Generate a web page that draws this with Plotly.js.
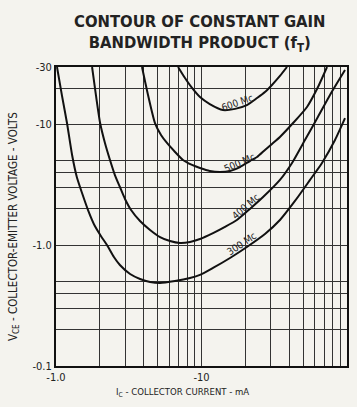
<!DOCTYPE html>
<html>
<head>
<meta charset="utf-8">
<script src="https://cdn.plot.ly/plotly-3.0.1.min.js"></script>
<style>html,body{margin:0;padding:0;background:#f4f3ee;}</style>
</head>
<body>
<div id="chart" style="width:357px;height:407px;"></div>
<script>
// Magnitudes of collector current (mA) and collector-emitter voltage (V); both are negative in the original
const ic300  = [1.016, 1.10, 1.19, 1.29, 1.39, 1.51, 1.66, 1.85, 2.04, 2.24, 2.50, 2.75, 3.23, 3.78, 4.43, 5.19, 6.57, 8.34, 9.76, 12.0, 15.7, 20.5, 27.3, 34.6, 43.9, 55.7, 67.3, 82.7, 96.9];
const vce300 = [30, 17.3, 10.3, 5.60, 3.68, 2.71, 1.96, 1.445, 1.19, 1.006, 0.80, 0.687, 0.578, 0.526, 0.497, 0.487, 0.506, 0.536, 0.568, 0.649, 0.785, 0.968, 1.24, 1.62, 2.33, 3.48, 4.81, 7.45, 11.3];

const ic400  = [1.77, 1.88, 2.01, 2.17, 2.35, 2.54, 2.75, 2.98, 3.28, 3.78, 4.43, 5.19, 6.07, 7.11, 8.34, 9.76, 12.0, 14.5, 17.5, 21.5, 26.5, 34.6, 41.9, 51.4, 63.2, 76.4, 96.9];
const vce400 = [30, 17.6, 10.3, 7.04, 5.09, 3.82, 3.04, 2.42, 1.96, 1.59, 1.34, 1.17, 1.085, 1.045, 1.065, 1.127, 1.26, 1.42, 1.62, 2.00, 2.51, 3.48, 4.81, 7.45, 11.6, 17.6, 28.3];

const ic500  = [3.90, 4.29, 4.79, 5.27, 5.79, 6.58, 7.46, 8.61, 9.76, 11.4, 13.4, 15.7, 18.4, 21.5, 24.1, 27.3, 30.5, 34.6, 42.6, 53.1, 62.2, 72.9];
const vce500 = [30, 17.6, 10.3, 8.20, 7.04, 5.93, 5.09, 4.63, 4.37, 4.13, 4.05, 4.13, 4.45, 4.99, 5.39, 6.16, 6.91, 7.90, 10.3, 14.0, 19.7, 30];

const ic600  = [6.90, 7.70, 8.61, 9.76, 11.4, 14.05, 17.0, 20.5, 24.1, 27.3, 30.5, 34.6, 38.7];
const vce600 = [30, 24.3, 20.1, 16.9, 14.8, 13.2, 13.5, 14.5, 16.6, 18.6, 21.3, 25.3, 30];

const curveLabels = ["300 Mc", "400 Mc", "500 Mc", "600 Mc"];

const xTickVals = [1,2,3,4,5,6,7,8,9,10,20,30,40,50,60,70,80,90,100];
const xTickText = ["-1.0","","","","","","","","","-10","","","","","","","","","-100"];
const yTickVals = [0.1,0.2,0.3,0.4,0.5,1,2,3,4,5,10,20,30];
const yTickText = ["-0.1","","","","","-1.0","","","","","-10","","-30"];

const lineStyle = {color:'#111', width:2, shape:'spline', smoothing:0.6};
const traces = [
  {x:ic300, y:vce300, name:curveLabels[0]},
  {x:ic400, y:vce400, name:curveLabels[1]},
  {x:ic500, y:vce500, name:curveLabels[2]},
  {x:ic600, y:vce600, name:curveLabels[3]}
].map(t => Object.assign(t, {type:'scatter', mode:'lines', line:lineStyle, hoverinfo:'skip'}));

const narrow = 'Liberation Sans Narrow, DejaVu Sans Condensed, Arial Narrow, sans-serif';
const labelPos = [
  {x:0.639, y:0.411, a:-34},
  {x:0.651, y:0.535, a:-41},
  {x:0.632, y:0.682, a:-24},
  {x:0.625, y:0.880, a:-19}
];
const annotations = curveLabels.map((t,i) => ({
  text:t, xref:'paper', yref:'paper', x:labelPos[i].x, y:labelPos[i].y,
  xanchor:'center', yanchor:'middle',
  textangle:labelPos[i].a, showarrow:false, font:{family:narrow, size:10, color:'#222'}
}));
annotations.push({
  text:'CONTOUR OF CONSTANT GAIN<br>BANDWIDTH PRODUCT (f<sub>T</sub>)', xref:'paper', yref:'paper',
  x:0.495, y:1.1137, xanchor:'center', yanchor:'middle', showarrow:false,
  font:{family:narrow, size:16.5, color:'#222', weight:'bold'}
});
annotations.push({
  text:'V<sub>CE</sub> - COLLECTOR-EMITTER VOLTAGE - VOLTS', xref:'paper', yref:'paper',
  x:-0.1478, y:0.468, xanchor:'center', yanchor:'middle', textangle:-90, showarrow:false,
  font:{family:narrow, size:11.5, color:'#222'}
});
annotations.push({
  text:'I<sub>C</sub> - COLLECTOR CURRENT - mA', xref:'paper', yref:'paper',
  x:0.436, y:-0.087, xanchor:'center', yanchor:'middle', showarrow:false,
  font:{family:narrow, size:9.5, color:'#222'}
});

const axisCommon = {
  showline:true, linecolor:'#111', linewidth:2, mirror:true,
  showgrid:true, gridcolor:'#333', gridwidth:1, zeroline:false,
  ticks:'', tickfont:{family:narrow, size:11, color:'#222'}, fixedrange:true
};

const layout = {
  width:357, height:407,
  margin:{l:56, r:10, t:67, b:41},
  paper_bgcolor:'#f4f3ee', plot_bgcolor:'#f4f3ee',
  showlegend:false,
  xaxis:Object.assign({}, axisCommon, {type:'log', range:[0,2], tickvals:xTickVals, ticktext:xTickText, tickangle:0}),
  yaxis:Object.assign({}, axisCommon, {type:'log', range:[-1, Math.log10(30)], tickvals:yTickVals, ticktext:yTickText}),
  annotations:annotations
};

Plotly.newPlot('chart', traces, layout, {staticPlot:true, displayModeBar:false});
</script>
</body>
</html>
